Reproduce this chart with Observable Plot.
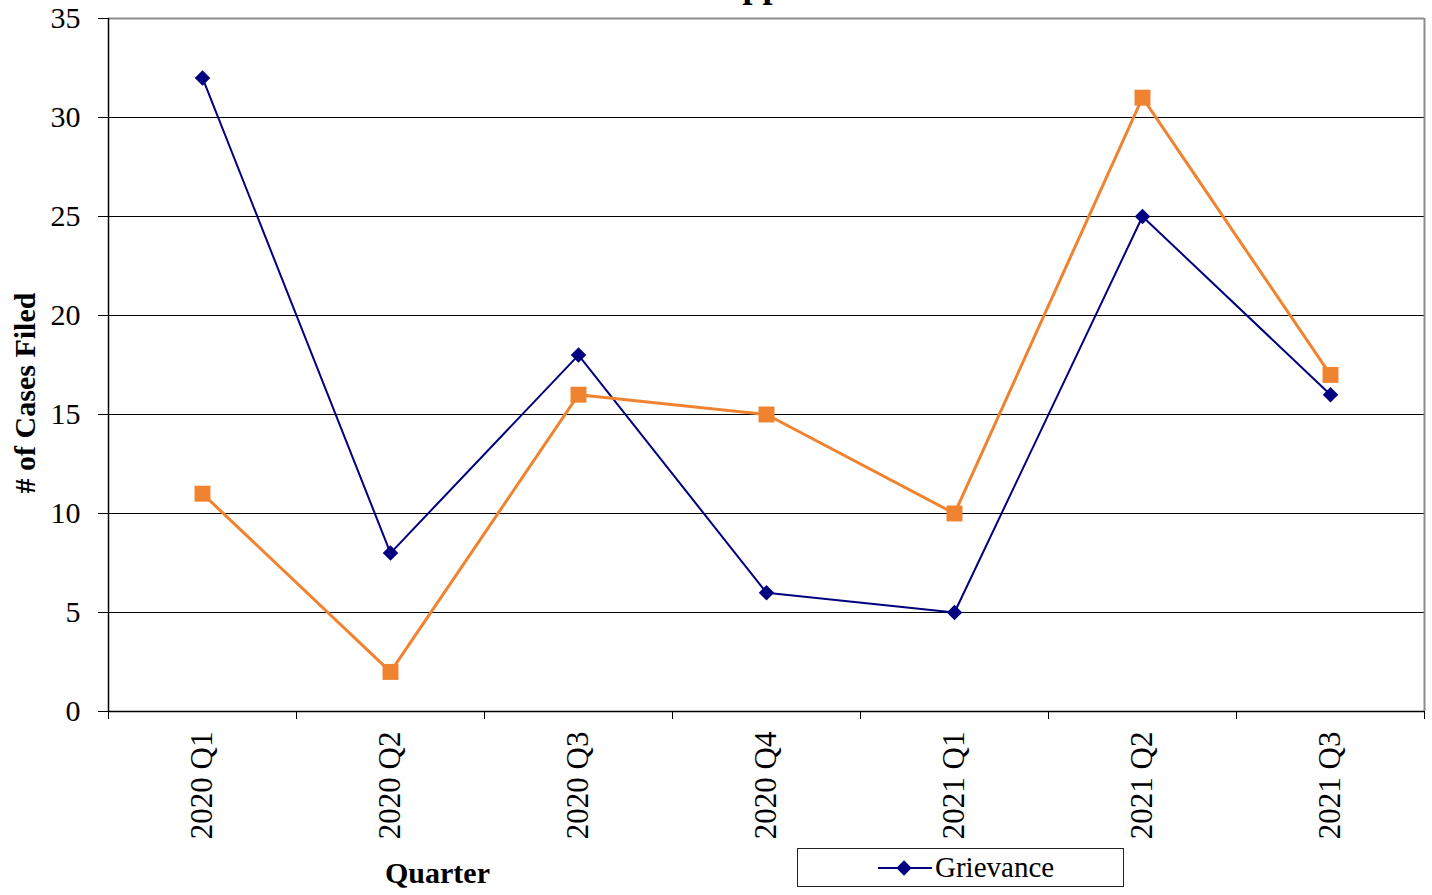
<!DOCTYPE html>
<html>
<head>
<meta charset="utf-8">
<script src="https://cdn.jsdelivr.net/npm/d3@7"></script>
<script src="https://cdn.jsdelivr.net/npm/@observablehq/plot@0.6"></script>
<style>
  body { margin: 0; background: #fff; font-family: 'Liberation Serif'; }
  #wrap { position: relative; width: 1432px; height: 895px; overflow: hidden; }
  #legend {
    position: absolute; left: 797px; top: 848px; width: 327px; height: 39px;
    box-sizing: border-box; border: 1.5px solid #222; background: #fff;
    display: flex; align-items: center; font-family: 'Liberation Serif'; font-size: 29px; color: #000;
  }
  #legend svg { margin-left: 79px; margin-right: 2px; }
</style>
</head>
<body>
<div id="wrap">
  <div id="chart"></div>
  <div id="legend"></div>
</div>
<script>
const quarters = ["2020 Q1", "2020 Q2", "2020 Q3", "2020 Q4", "2021 Q1", "2021 Q2", "2021 Q3"];
const grievance = [32, 8, 18, 6, 5, 25, 16];
const appeals = [11, 2, 16, 15, 10, 31, 17];
const yTicks = [0, 5, 10, 15, 20, 25, 30, 35];
const seriesNames = ["Grievance", "Appeals"];
const titleText = "Appeals";

const navy = "#000080";
const orange = "#F0832F";
const serif = "Liberation Serif";

const rows = quarters.map((q, i) => ({ q, pos: i + 0.5, grievance: grievance[i], appeals: appeals[i] }));

const chart = Plot.plot({
  width: 1432,
  height: 895,
  marginLeft: 108,
  marginRight: 8,
  marginTop: 18,
  marginBottom: 184,
  style: { fontFamily: serif, fontSize: "30px", color: "#000", background: "#fff" },
  x: { domain: [0, quarters.length] },
  y: { domain: [0, 35] },
  marks: [
    Plot.ruleY(yTicks.filter(d => d > 0 && d < 35), { stroke: "#000", strokeWidth: 1 }),
    Plot.ruleY([35], { stroke: "#8c8c8c", strokeWidth: 2 }),
    Plot.ruleX([quarters.length], { stroke: "#8c8c8c", strokeWidth: 2 }),
    Plot.ruleY([0], { stroke: "#000", strokeWidth: 1.5 }),
    Plot.ruleX([0], { stroke: "#000", strokeWidth: 1.5 }),
    Plot.axisY({ ticks: yTicks, tickSize: 10, tickPadding: 18, tickFormat: d => String(d), label: null,
      fontSize: 30, fontFamily: serif }),
    Plot.axisX({ ticks: d3.range(quarters.length + 1), tickSize: 8, tickFormat: () => "", label: null }),
    Plot.axisX({ ticks: rows.map(r => r.pos), tickSize: 0, tickRotate: -90, tickPadding: 20,
      tickFormat: v => quarters[Math.round(v - 0.5)], label: null, fontSize: 31, fontFamily: serif }),
    Plot.line(rows, { x: "pos", y: "grievance", stroke: navy, strokeWidth: 2 }),
    Plot.dot(rows, { x: "pos", y: "grievance", symbol: "diamond2", r: 7, fill: navy, stroke: "none" }),
    Plot.line(rows, { x: "pos", y: "appeals", stroke: orange, strokeWidth: 3 }),
    Plot.dot(rows, { x: "pos", y: "appeals", symbol: "square", r: 9, fill: orange, stroke: "none" }),
    Plot.text(["# of Cases Filed"], { frameAnchor: "left", textAnchor: "middle", rotate: -90, dx: -83, dy: 28,
      fontSize: 30, fontWeight: "bold", fontFamily: serif }),
    Plot.text(["Quarter"], { frameAnchor: "bottom-left", textAnchor: "middle", lineAnchor: "bottom", dx: 329, dy: 171,
      fontSize: 30, fontWeight: "bold", fontFamily: serif }),
    Plot.text([titleText], { frameAnchor: "top", textAnchor: "middle", lineAnchor: "bottom", dx: 12, dy: -22,
      fontSize: 36, fontWeight: "bold", fontFamily: serif })
  ]
});
document.getElementById("chart").appendChild(chart);

// Legend (only the first series is visible in the reference)
const legend = document.getElementById("legend");
const sw = d3.create("svg").attr("width", 56).attr("height", 20);
sw.append("line").attr("x1", 1).attr("x2", 55).attr("y1", 10).attr("y2", 10).attr("stroke", navy).attr("stroke-width", 2);
sw.append("path").attr("d", d3.symbol(d3.symbolDiamond2, 150)()).attr("transform", "translate(27,10)").attr("fill", navy);
legend.appendChild(sw.node());
const lt = document.createElement("span");
lt.textContent = seriesNames[0];
legend.appendChild(lt);
</script>
</body>
</html>
